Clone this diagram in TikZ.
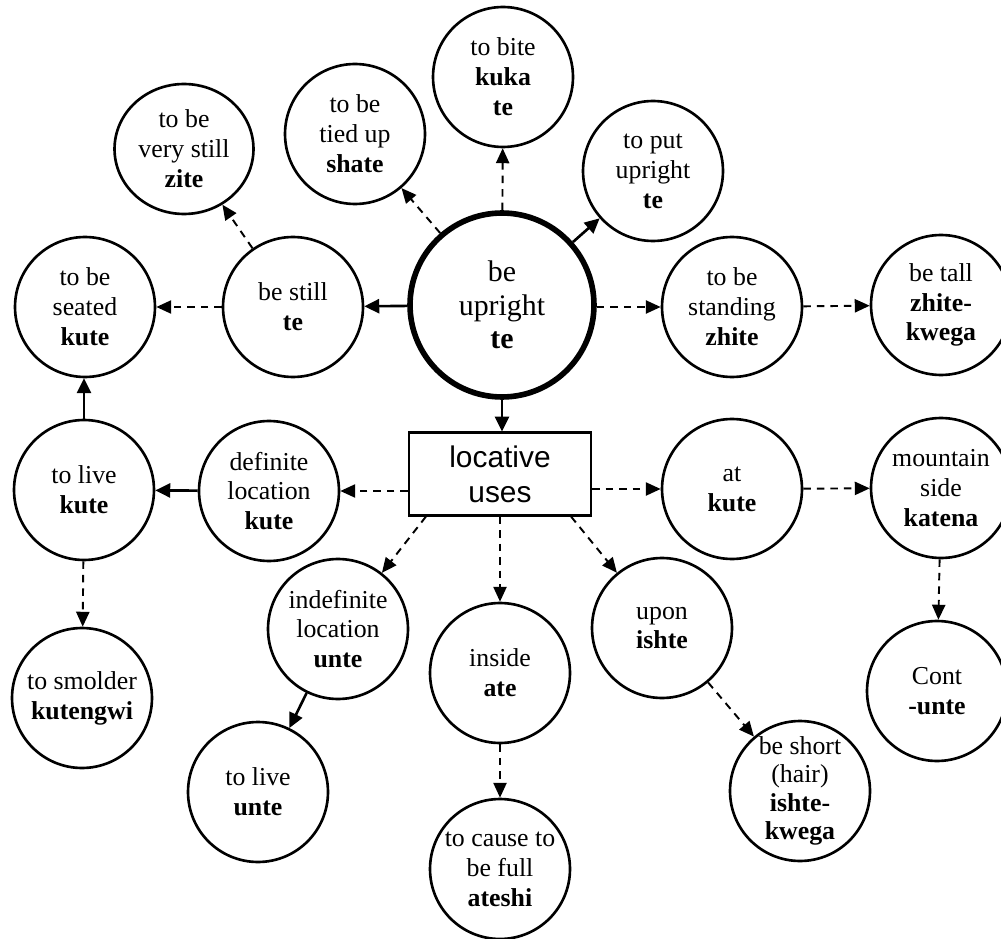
\documentclass[tikz,border=0pt]{standalone}
\usepackage{fontspec}
\setmainfont{Liberation Serif}
\newfontfamily\locfont{Liberation Sans}
\usetikzlibrary{arrows.meta,shapes.geometric}

\begin{document}
\begin{tikzpicture}[x=0.02cm,y=-0.02cm,
  bub/.style={circle, draw, line width=1.5pt, minimum size=2.8cm, inner sep=0pt},
  oval/.style={ellipse, draw, line width=1.5pt, minimum width=2.78cm, minimum height=2.6cm, inner sep=0pt},
  hub/.style={circle, draw, line width=3.2pt, minimum size=3.68cm, inner sep=0pt},
  txt/.style={align=center, font=\fontsize{14.7}{17}\selectfont, inner sep=0pt},
  hubtxt/.style={align=center, font=\fontsize{17}{19}\selectfont, inner sep=0pt},
  boxnode/.style={draw, line width=1.2pt, minimum width=3.64cm, minimum height=1.66cm,
    inner sep=0pt, align=center, font=\locfont\fontsize{17}{20}\selectfont},
  sol/.style={line width=1.5pt, -{Triangle[length=8.5pt,width=8pt]}},
  dsh/.style={line width=1.1pt, dash pattern=on 4.3pt off 3.4pt, -{Triangle[length=8.5pt,width=7.5pt]}},
]
\clip (0,0) rectangle (1001,939);

% central verb
\node[hub] (up) at (502,305) {};
\node[hubtxt] (up-t) at (up) {be\\upright\\\textbf{te}};

% upper branch
\node[oval] (vstill) at (184,149) {};
\node[txt] (vstill-t) at (vstill) {to be\\very still\\\textbf{zite}};
\node[bub] (tied) at (355,134) {};
\node[txt] (tied-t) at (tied) {to be\\tied up\\\textbf{shate}};
\node[bub] (bite) at (503,77) {};
\node[txt] (bite-t) at (bite) {to bite\\\textbf{kuka}\\\textbf{te}};
\node[bub] (putup) at (653,171) {};
\node[txt] (putup-t) at (putup) {to put\\upright\\\textbf{te}};
\node[bub] (stand) at (732,307) {};
\node[txt] (stand-t) at (stand) {to be\\standing\\\textbf{zhite}};
\node[bub] (tall) at (941,305) {};
\node[txt] (tall-t) at (tall) {be tall\\\textbf{zhite-}\\\textbf{kwega}};
\node[bub] (bstill) at (293,307) {};
\node[txt] (bstill-t) at (bstill) {be still\\\textbf{te}};
\node[bub] (seated) at (85,307) {};
\node[txt] (seated-t) at (seated) {to be\\seated\\\textbf{kute}};

% locative branch
\node[boxnode] (loc) at (500,474) {locative\\uses};
\node[bub] (live) at (84,490) {};
\node[txt] (live-t) at (live) {to live\\\textbf{kute}};
\node[bub] (def) at (269,491) {};
\node[txt] (def-t) at (def) {definite\\location\\\textbf{kute}};
\node[bub] (at) at (732,489) {};
\node[txt] (at-t) at (at) {at\\\textbf{kute}};
\node[bub] (mount) at (941,488) {};
\node[txt] (mount-t) at (mount) {mountain\\side\\\textbf{katena}};
\node[bub] (indef) at (338,629) {};
\node[txt] (indef-t) at (indef) {indefinite\\location\\\textbf{unte}};
\node[bub] (inside) at (500,673) {};
\node[txt] (inside-t) at (inside) {inside\\\textbf{ate}};
\node[bub] (upon) at (662,628) {};
\node[txt] (upon-t) at (upon) {upon\\\textbf{ishte}};
\node[bub] (cont) at (937,691) {};
\node[txt] (cont-t) at (cont) {Cont\\\textbf{-unte}};
\node[bub] (smolder) at (82,698) {};
\node[txt] (smolder-t) at (smolder) {to smolder\\\textbf{kutengwi}};
\node[bub] (liveu) at (258,792) {};
\node[txt] (liveu-t) at (liveu) {to live\\\textbf{unte}};
\node[bub] (cause) at (500,869) {};
\node[txt] (cause-t) at (cause) {to cause to\\be full\\\textbf{ateshi}};
\node[bub] (short) at (800,791) {};
\node[txt, font=\fontsize{14.7}{16.2}\selectfont] (short-t) at (short) {be short\\(hair)\\\textbf{ishte-}\\\textbf{kwega}};

% connectors from the central verb
\draw[sol] (up) -- (putup);
\draw[sol] (up) -- (bstill);
\draw[sol] (up.south) -- (up.south |- loc.north);
\draw[dsh] (up) -- (tied);
\draw[dsh] (up) -- (bite);
\draw[dsh] (up.east |- stand) -- (stand);
\draw[dsh] (stand) -- (tall);
\draw[dsh] (bstill) -- (vstill);
\draw[dsh] (bstill) -- (seated);

% connectors of the locative uses
\coordinate (loc-sw) at ([xshift=0.36cm]loc.south west);
\coordinate (loc-se) at ([xshift=-0.42cm]loc.south east);
\draw[dsh] (loc.west |- def) -- (def);
\draw[dsh] (loc.east |- at) -- (at);
\draw[dsh] (at) -- (mount);
\draw[dsh] (mount) -- (cont);
\draw[dsh] (loc-sw) -- (indef);
\draw[dsh] (loc.south) -- (inside);
\draw[dsh] (loc-se) -- (upon);
\draw[dsh] (inside) -- (cause);
\draw[dsh] (upon) -- (short);
\draw[sol] (indef) -- (liveu);
\draw[sol] (def) -- (live);
\draw[sol] (live.north) -- (live.north |- seated.south);
\draw[dsh] (live) -- (smolder);
\end{tikzpicture}
\end{document}
